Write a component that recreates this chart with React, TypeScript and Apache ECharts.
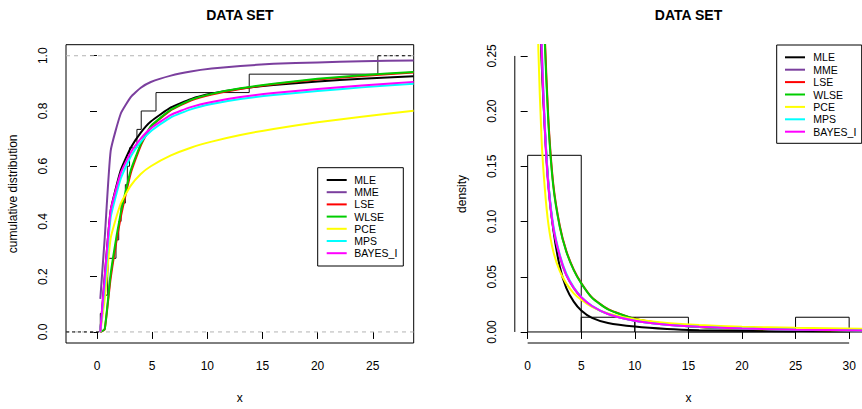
import React, { useEffect, useRef } from "react";
import * as echarts from "echarts";

// ---------- data ----------
const METHODS = ["MLE", "MME", "LSE", "WLSE", "PCE", "MPS", "BAYES_I"];
const COLORS = ["#000000", "#7B3F9E", "#FF0000", "#00CD00", "#FFFF00", "#00FFFF", "#FF00FF"];

// sorted sample (n = 15)
const SAMPLE = [0.3, 0.54, 0.97, 1.02, 1.72, 1.97, 2.18, 2.57, 2.75, 2.95, 3.62, 4.01, 5.35, 13.8, 25.46];

// fitted CDFs
const CDF_X = [0.3, 0.7, 1.24, 2.15, 3.06, 3.97, 4.88, 6.7, 8.5, 10.4, 13, 16, 20, 24, 28.7];
const CDF_MLE = [0, 0.2, 0.44, 0.585, 0.667, 0.722, 0.762, 0.813, 0.843, 0.863, 0.881, 0.894, 0.907, 0.917, 0.926];
const CDF_MME = [0.12, 0.34, 0.656, 0.79, 0.85, 0.884, 0.905, 0.928, 0.943, 0.9535, 0.963, 0.9706, 0.9758, 0.9798, 0.9831];
const CDF_LSE = [0, 0.01, 0.195, 0.415, 0.575, 0.675, 0.742, 0.803, 0.838, 0.86, 0.88, 0.897, 0.914, 0.927, 0.939];
const CDF_WLSE = [0, 0.01, 0.21, 0.43, 0.585, 0.68, 0.745, 0.805, 0.84, 0.862, 0.882, 0.899, 0.9165, 0.9297, 0.9415];
const CDF_PCE = [0, 0.12, 0.34, 0.465, 0.53, 0.572, 0.6, 0.639, 0.667, 0.689, 0.713, 0.735, 0.759, 0.7794, 0.8006];
const CDF_MPS = [0, 0.17, 0.415, 0.555, 0.635, 0.688, 0.727, 0.777, 0.806, 0.825, 0.843, 0.858, 0.872, 0.8855, 0.899];
const CDF_BAYES = [0, 0.2, 0.44, 0.575, 0.65, 0.7, 0.737, 0.786, 0.814, 0.8326, 0.8503, 0.865, 0.8794, 0.8922, 0.9054];

// fitted densities
const DENS_X = [0.7, 1.0, 1.3, 1.6, 1.93, 2.39, 3.0, 3.6, 4.3, 5.0, 6.0, 7.5, 10, 13, 16, 20, 25, 31.5];
const DENS_MLE = [0.8, 0.36, 0.245, 0.185, 0.135, 0.093, 0.059, 0.04, 0.0275, 0.0195, 0.0128, 0.0082, 0.0049, 0.0027, 0.0016, 0.001, 0.0006, 0.0003];
const DENS_MME = [0.9, 0.41, 0.255, 0.183, 0.132, 0.094, 0.068, 0.0515, 0.0397, 0.0313, 0.0233, 0.0162, 0.0101, 0.0065, 0.0046, 0.0031, 0.0021, 0.0014];
const DENS_LSE = [1.2, 0.62, 0.37, 0.268, 0.193, 0.134, 0.096, 0.0735, 0.0565, 0.0444, 0.0313, 0.0207, 0.0119, 0.0071, 0.0045, 0.0029, 0.0019, 0.0013];
const DENS_WLSE = [1.2, 0.6, 0.36, 0.262, 0.19, 0.132, 0.095, 0.073, 0.056, 0.044, 0.031, 0.0205, 0.0118, 0.007, 0.0045, 0.0029, 0.0019, 0.0013];
const DENS_PCE = [0.45, 0.255, 0.174, 0.13, 0.098, 0.073, 0.055, 0.044, 0.035, 0.0292, 0.0228, 0.0168, 0.0115, 0.0082, 0.0063, 0.0048, 0.0037, 0.0029];
const DENS_MPS = [0.9, 0.43, 0.265, 0.19, 0.136, 0.097, 0.07, 0.053, 0.0405, 0.0318, 0.0237, 0.0164, 0.0102, 0.0066, 0.0047, 0.0031, 0.0021, 0.0014];
const DENS_BAYES = [0.9, 0.42, 0.26, 0.185, 0.133, 0.095, 0.069, 0.052, 0.04, 0.0315, 0.0235, 0.0163, 0.0102, 0.0066, 0.0047, 0.0031, 0.0021, 0.0014];

// histogram
const HIST_BREAKS = [0, 5, 10, 15, 20, 25, 30];
const HIST_DENSITY = [0.16, 0.01333, 0.01333, 0, 0, 0.01333];

// ticks
const CDF_XTICKS = [0, 5, 10, 15, 20, 25];
const CDF_YTICKS = [0, 0.2, 0.4, 0.6, 0.8, 1.0];
const DENS_XTICKS = [0, 5, 10, 15, 20, 25, 30];
const DENS_YTICKS = [0, 0.05, 0.1, 0.15, 0.2, 0.25];

const TITLE = "DATA SET";

const CDFS = [CDF_MLE, CDF_MME, CDF_LSE, CDF_WLSE, CDF_PCE, CDF_MPS, CDF_BAYES];
const DENS = [DENS_MLE, DENS_MME, DENS_LSE, DENS_WLSE, DENS_PCE, DENS_MPS, DENS_BAYES];

const FONT = "'Liberation Sans', Arial, Helvetica, sans-serif";

// axis ranges (R style 4% extension)
const L_XMIN = -2.81, L_XMAX = 28.71, L_YMIN = -0.04, L_YMAX = 1.04;
const R_XMIN = -1.2, R_XMAX = 31.2, R_YMIN = -0.01, R_YMAX = 0.26;

function legendGraphic(x0: number, y0: number, w: number, h: number, lx0: number, lx1: number, tx: number, ry0: number, dy: number) {
  const children: any[] = [
    { type: "rect", shape: { x: x0, y: y0, width: w, height: h }, style: { fill: "#fff", stroke: "#000", lineWidth: 1 } },
  ];
  METHODS.forEach((m, i) => {
    const y = ry0 + i * dy;
    children.push({ type: "line", shape: { x1: lx0, y1: y, x2: lx1, y2: y }, style: { stroke: COLORS[i], lineWidth: 2 } });
    children.push({
      type: "text",
      x: tx,
      y: y,
      style: { text: m, fill: "#000", font: `10.5px ${FONT}`, textVerticalAlign: "middle", textAlign: "left" },
    });
  });
  return { type: "group", children, z: 100 };
}

export default function App() {
  const ref = useRef<HTMLDivElement>(null);
  useEffect(() => {
    if (!ref.current) return;
    const chart = echarts.init(ref.current, undefined, { renderer: "svg" });

    const n = SAMPLE.length;
    const ecdf: number[][] = [[SAMPLE[0], 0]];
    SAMPLE.forEach((v, i) => ecdf.push([v, (i + 1) / n]));

    const axisLabelBase = { color: "#000", fontSize: 12, fontFamily: FONT };

    const series: any[] = [];
    // left panel reference lines
    series.push({
      type: "line", xAxisIndex: 0, yAxisIndex: 0, symbol: "none", silent: true,
      data: [[L_XMIN, 0], [L_XMAX, 0]], lineStyle: { color: "#b3b3b3", width: 1, type: [4, 4] },
    });
    series.push({
      type: "line", xAxisIndex: 0, yAxisIndex: 0, symbol: "none", silent: true,
      data: [[L_XMIN, 1], [L_XMAX, 1]], lineStyle: { color: "#b3b3b3", width: 1, type: [4, 4] },
    });
    series.push({
      type: "line", xAxisIndex: 0, yAxisIndex: 0, symbol: "none", silent: true,
      data: [[L_XMIN, 0], [SAMPLE[0], 0]], lineStyle: { color: "#000", width: 1, type: [3, 3] },
    });
    series.push({
      type: "line", xAxisIndex: 0, yAxisIndex: 0, symbol: "none", silent: true,
      data: [[SAMPLE[n - 1], 1], [L_XMAX, 1]], lineStyle: { color: "#000", width: 1, type: [3, 3] },
    });
    // ECDF
    series.push({
      type: "line", xAxisIndex: 0, yAxisIndex: 0, symbol: "none", silent: true, step: "end",
      data: ecdf, lineStyle: { color: "#111", width: 1 },
    });
    // fitted CDFs
    CDFS.forEach((ys, i) => {
      series.push({
        type: "line", xAxisIndex: 0, yAxisIndex: 0, symbol: "none", silent: true, name: METHODS[i],
        smooth: 0.15,
        data: CDF_X.map((x, j) => [x, ys[j]]), lineStyle: { color: COLORS[i], width: 2 },
      });
    });

    // right panel: histogram
    series.push({
      type: "custom", xAxisIndex: 1, yAxisIndex: 1, silent: true,
      data: HIST_DENSITY.map((h, i) => [HIST_BREAKS[i], HIST_BREAKS[i + 1], h]),
      renderItem: (params: any, api: any) => {
        const p0 = api.coord([api.value(0), 0]);
        const p1 = api.coord([api.value(1), api.value(2)]);
        return {
          type: "rect",
          shape: { x: p0[0], y: p1[1], width: p1[0] - p0[0], height: p0[1] - p1[1] },
          style: { fill: "none", stroke: "#000", lineWidth: 1 },
        };
      },
    });
    // right panel axis lines (R draws them between first and last tick)
    series.push({
      type: "line", xAxisIndex: 1, yAxisIndex: 1, symbol: "none", silent: true, clip: false,
      data: [[DENS_XTICKS[0], R_YMIN], [DENS_XTICKS[DENS_XTICKS.length - 1], R_YMIN]], lineStyle: { color: "#000", width: 1 },
    });
    series.push({
      type: "line", xAxisIndex: 1, yAxisIndex: 1, symbol: "none", silent: true, clip: false,
      data: [[R_XMIN, DENS_YTICKS[0]], [R_XMIN, DENS_YTICKS[DENS_YTICKS.length - 1]]], lineStyle: { color: "#000", width: 1 },
    });
    DENS.forEach((ys, i) => {
      series.push({
        type: "line", xAxisIndex: 1, yAxisIndex: 1, symbol: "none", silent: true, name: METHODS[i],
        smooth: 0.2,
        data: DENS_X.map((x, j) => [x, ys[j]]), lineStyle: { color: COLORS[i], width: 2 },
      });
    });

    const option: any = {
      animation: false,
      backgroundColor: "#fff",
      grid: [
        { left: 66, top: 44.7, width: 347.7, height: 300.3, show: true, borderColor: "#000", borderWidth: 1, backgroundColor: "transparent" },
        { left: 514.8, top: 44.9, width: 347.4, height: 300.5, show: false },
      ],
      xAxis: [
        {
          type: "value", gridIndex: 0, min: L_XMIN, max: L_XMAX,
          name: "x", nameLocation: "middle", nameGap: 49, nameTextStyle: { color: "#000", fontSize: 12, fontFamily: FONT },
          axisLine: { show: false },
          axisTick: { show: true, inside: false, length: 7, customValues: CDF_XTICKS, lineStyle: { color: "#000" } },
          axisLabel: { ...axisLabelBase, margin: 17, customValues: CDF_XTICKS, formatter: (v: number) => String(v) },
          splitLine: { show: false },
        },
        {
          type: "value", gridIndex: 1, min: R_XMIN, max: R_XMAX,
          name: "x", nameLocation: "middle", nameGap: 49, nameTextStyle: { color: "#000", fontSize: 12, fontFamily: FONT },
          axisLine: { show: false },
          axisTick: { show: true, inside: false, length: 7, customValues: DENS_XTICKS, lineStyle: { color: "#000" } },
          axisLabel: { ...axisLabelBase, margin: 17, customValues: DENS_XTICKS, formatter: (v: number) => String(v) },
          splitLine: { show: false },
        },
      ],
      yAxis: [
        {
          type: "value", gridIndex: 0, min: L_YMIN, max: L_YMAX,
          name: "cumulative distribution", nameLocation: "middle", nameGap: 47, nameRotate: 90,
          nameTextStyle: { color: "#000", fontSize: 12, fontFamily: FONT },
          axisLine: { show: false },
          axisTick: { show: true, inside: false, length: 7, customValues: CDF_YTICKS, lineStyle: { color: "#000" } },
          axisLabel: { ...axisLabelBase, margin: 17, rotate: 90, customValues: CDF_YTICKS, formatter: (v: number) => v.toFixed(1) },
          splitLine: { show: false },
        },
        {
          type: "value", gridIndex: 1, min: R_YMIN, max: R_YMAX,
          name: "density", nameLocation: "middle", nameGap: 47, nameRotate: 90,
          nameTextStyle: { color: "#000", fontSize: 12, fontFamily: FONT },
          axisLine: { show: false },
          axisTick: { show: true, inside: false, length: 7, customValues: DENS_YTICKS, lineStyle: { color: "#000" } },
          axisLabel: { ...axisLabelBase, margin: 17, rotate: 90, customValues: DENS_YTICKS, formatter: (v: number) => v.toFixed(2) },
          splitLine: { show: false },
        },
      ],
      graphic: [
        { type: "text", x: 239.9, y: 15, style: { text: TITLE, fill: "#000", font: `bold 14px ${FONT}`, textAlign: "center", textVerticalAlign: "middle" } },
        { type: "text", x: 688.5, y: 15, style: { text: TITLE, fill: "#000", font: `bold 14px ${FONT}`, textAlign: "center", textVerticalAlign: "middle" } },
        legendGraphic(317.7, 167.7, 85.6, 98.3, 326.7, 346.7, 354.3, 180, 12.2),
        legendGraphic(776.7, 45, 85, 98.3, 785, 805, 813.3, 57.3, 12.4),
      ],
      series,
    };
    chart.setOption(option);
    return () => chart.dispose();
  }, []);
  return <div ref={ref} style={{ position: "fixed", left: 0, top: 0, width: 862, height: 409 }} />;
}
